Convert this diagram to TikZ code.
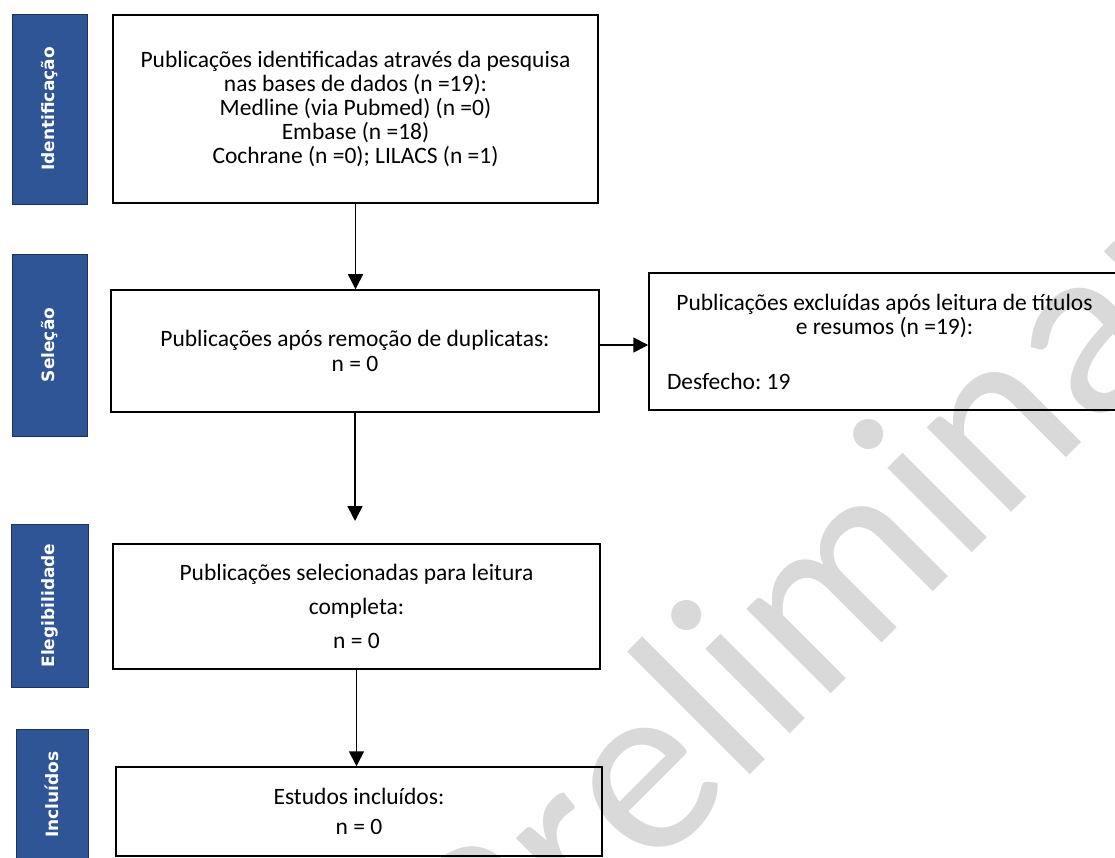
\documentclass[tikz,border=0pt]{standalone}
\usepackage{fontspec}
\setmainfont{Carlito}
\newfontfamily\labelfont{DejaVu Sans}
\usetikzlibrary{arrows.meta}
\definecolor{stageblue}{HTML}{2F5597}
\definecolor{wmgray}{HTML}{D9D9D9}
\frenchspacing

\begin{document}
\begin{tikzpicture}[x=1pt,y=-1pt,
    stage/.style={fill=stageblue,draw=stageblue!60!black,line width=0.8pt,rotate=90,text=white,inner sep=0pt,
      font=\labelfont\bfseries\fontsize{17}{20}\selectfont},
    box/.style={draw,line width=1.5pt,align=center,inner sep=0pt},
    arr/.style={line width=1.6pt,-{Triangle[length=15pt,width=15pt]}}]
  \useasboundingbox (0,0) rectangle (1115,858);
  \begin{scope}
    \clip (0,0) rectangle (1115,858);
    \node [text=wmgray,rotate=45,font=\fontsize{250}{250}\selectfont] (wm) at (808,595) {Preliminar};
  \end{scope}

  \node [stage,minimum width=190,minimum height=75] (sIdent) at (49.5,109) {Identificação};
  \node [stage,minimum width=182,minimum height=75] (sSelec) at (49.5,345) {Seleção};
  \node [stage,minimum width=163,minimum height=77] (sEleg) at (49.5,605.5) {Elegibilidade};
  \node [stage,minimum width=131,minimum height=72] (sIncl) at (52,794.5) {Incluídos};

  \node [box,minimum width=485,minimum height=188,font=\fontsize{23.5}{24.2}\selectfont] (ident) at (355.5,109)
    {Publicações identificadas através da pesquisa\\ nas bases de dados (n =19):\\ Medline (via Pubmed) (n =0)\\ Embase (n =18)\\ Cochrane (n =0); LILACS (n =1)};
  \node [box,minimum width=488,minimum height=122,font=\fontsize{23.5}{25}\selectfont] (selec) at (355,351)
    {Publicações após remoção de duplicatas:\\ n = 0};
  \node [box,align=flush left,minimum width=471,minimum height=137,inner xsep=18pt,text width=435,font=\fontsize{23.5}{24}\selectfont] (excl) at (884.5,341.5)
    {{\centering Publicações excluídas após leitura de títulos\\ e resumos (n =19):\par}\vspace{31pt}Desfecho: 19};
  \node [box,minimum width=487,minimum height=125,font=\fontsize{23.5}{34}\selectfont] (eleg) at (356.5,606.5)
    {Publicações selecionadas para leitura\\ completa:\\ n = 0};
  \node [box,minimum width=486,minimum height=89,font=\fontsize{23.5}{30}\selectfont] (incl) at (359,811.5)
    {Estudos incluídos:\\ n = 0};

  \coordinate (tipE) at (356,521);
  \draw [arr] (ident.south) -- (ident.south |- selec.north);
  \draw [arr] ([yshift=6pt]selec.east) -- ([yshift=6pt]selec.east -| excl.west);
  \draw [arr] (selec.south) -- (selec.south |- tipE);
  \draw [arr] (eleg.south) -- (eleg.south |- incl.north);
\end{tikzpicture}
\end{document}
